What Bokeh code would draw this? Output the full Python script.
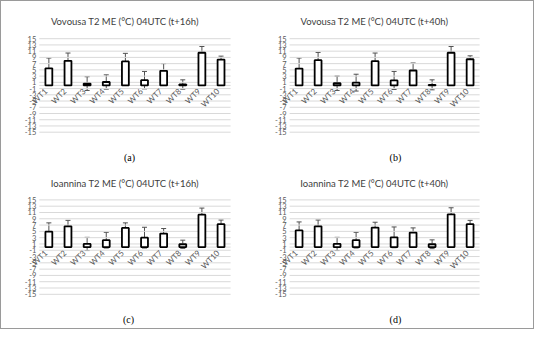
from bokeh.plotting import figure
from bokeh.layouts import column, row
from bokeh.models import ColumnDataSource, Range1d, Whisker, TeeHead
from bokeh.core.properties import value
from bokeh.embed import file_html
from bokeh.resources import INLINE

categories = ["WT1", "WT2", "WT3", "WT4", "WT5", "WT6", "WT7", "WT8", "WT9", "WT10"]
positions = [1, 2, 3, 4, 5, 6, 7, 8, 9, 10]
y_ticks = [-15, -13, -11, -9, -7, -5, -3, -1, 1, 3, 5, 7, 9, 11, 13, 15]
y_tick_labels = ["-15", "-13", "-11", "-9", "-7", "-5", "-3", "-1",
                 "1", "3", "5", "7", "9", "11", "13", "15"]

a_vals = [5.5, 7.9, 0.6, 1.1, 7.7, 1.7, 4.7, 0.3, 10.5, 8.3]
a_err = [3.3, 2.5, 2.2, 2.3, 2.6, 2.8, 2.3, 1.5, 2.0, 1.1]
b_vals = [5.4, 8.1, 0.7, 0.9, 7.8, 1.6, 4.8, 0.2, 10.5, 8.4]
b_err = [3.4, 2.5, 2.3, 2.7, 2.6, 2.9, 2.4, 1.6, 2.0, 1.1]
c_vals = [4.9, 6.6, 1.0, 2.2, 6.1, 3.0, 4.3, 0.9, 10.3, 7.3]
c_err = [2.8, 1.9, 2.1, 2.5, 1.6, 3.3, 1.6, 1.3, 2.1, 1.3]
d_vals = [5.3, 6.6, 1.0, 2.2, 6.2, 3.1, 4.6, 0.9, 10.4, 7.3]
d_err = [2.7, 2.0, 2.1, 2.5, 1.7, 3.3, 1.5, 1.4, 2.1, 1.2]

titles = ["Vovousa T2 ME (°C) 04UTC (t+16h)", "Vovousa T2 ME (°C) 04UTC (t+40h)",
          "Ioannina T2 ME (°C) 04UTC (t+16h)", "Ioannina T2 ME (°C) 04UTC (t+40h)"]
captions = ["(a)", "(b)", "(c)", "(d)"]

GRAY = "#595959"
X0, X1 = 0.5, 10.5


def panel(vals, errs, title, caption, height, xr, yr, title_xy, cap_xy):
    src = ColumnDataSource(dict(
        x=positions, top=vals,
        upper=[v + e for v, e in zip(vals, errs)],
        lower=[v - e for v, e in zip(vals, errs)],
        lab=categories))
    tsrc = ColumnDataSource(dict(y=y_ticks, lab=y_tick_labels))
    p = figure(width=266, height=height, output_backend="svg", toolbar_location=None,
               x_range=Range1d(*xr), y_range=Range1d(*yr),
               x_axis_location=None, y_axis_location=None, min_border=0)
    p.title = None
    p.outline_line_color = None
    p.xgrid.visible = False
    p.ygrid.visible = False

    # horizontal gridlines at the tick values plus the category axis at 0
    p.segment(x0=X0, x1=X1, y0="y", y1="y", source=tsrc, line_color="#d9d9d9", line_width=1)
    p.segment(x0=[X0], x1=[X1], y0=[0], y1=[0], line_color="#d9d9d9", line_width=1)
    p.text(x=X0, y="y", text="lab", source=tsrc, text_align="right", text_baseline="middle",
           text_font=value("Lato"), text_font_size="7.5px", text_color=GRAY, x_offset=-3)

    p.vbar(x="x", top="top", bottom=0, width=0.36, source=src,
           fill_color="white", line_color="black", line_width=1.8)
    p.add_layout(Whisker(base="x", upper="upper", lower="lower", source=src,
                         line_color="#505050", line_width=1,
                         upper_head=TeeHead(size=5, line_color="#505050", line_width=1),
                         lower_head=TeeHead(size=5, line_color="#505050", line_width=1)))
    p.text(x="x", y=-1.4, text="lab", source=src, angle=45, angle_units="deg",
           text_align="right", text_baseline="middle", text_font=value("Lato"),
           text_font_size="8px", text_color=GRAY, x_offset=-3)

    p.text(x=[title_xy[0]], y=[title_xy[1]], text=[title], text_align="center",
           text_baseline="middle", text_font=value("Lato"), text_font_size="9.5px",
           text_color="#404040")
    p.text(x=[cap_xy[0]], y=[cap_xy[1]], text=[caption], text_align="center",
           text_baseline="middle", text_font=value("Liberation Serif"),
           text_font_size="10px", text_color="black")
    return p


XL = (-1.476, 12.429)
XR = (-0.663, 13.337)
YT = (-25.684, 26.936)
YB = (-25.869, 25.932)

pa = panel(a_vals, a_err, titles[0], captions[0], 164, XL, YT, (4.97, 20.52), (5.22, -23.25))
pb = panel(b_vals, b_err, titles[1], captions[1], 164, XR, YT, (4.96, 20.52), (6.07, -23.25))
pc = panel(c_vals, c_err, titles[2], captions[2], 163, XL, YB, (4.97, 20.15), (5.16, -22.88))
pd = panel(d_vals, d_err, titles[3], captions[3], 163, XR, YB, (4.96, 20.15), (6.07, -22.88))

layout = column(row(pa, pb), row(pc, pd),
                styles={"border": "1px solid #9a9a9a", "background-color": "white"})

open("out.html", "w").write(file_html(layout, INLINE))
